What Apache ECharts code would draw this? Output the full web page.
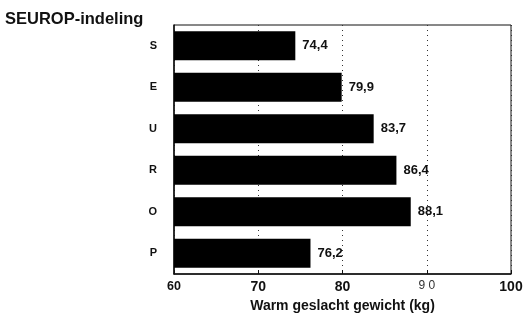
<!DOCTYPE html>
<html>
<head>
<meta charset="utf-8">
<script src="https://cdn.jsdelivr.net/npm/echarts@6/dist/echarts.min.js"></script>
<style>
  html, body { margin: 0; padding: 0; background: #fff; }
  #chart { width: 530px; height: 313px; }
</style>
</head>
<body>
<div id="chart"></div>
<script>
// SEUROP classes, top to bottom
const categories = ['S', 'E', 'U', 'R', 'O', 'P'];
// warm carcass weight (kg)
const weights = [74.4, 79.9, 83.7, 86.4, 88.1, 76.2];
const tickLabels = ['60', '70', '80', '9 0', '100'];

const chart = echarts.init(document.getElementById('chart'));

chart.setOption({
  animation: false,
  title: {
    text: 'SEUROP-indeling',
    left: 0,
    top: 6,
    textStyle: { fontFamily: 'Liberation Sans', fontSize: 16.5, fontWeight: 'bold', color: '#111' }
  },
  grid: {
    left: 174, right: 19, top: 25, bottom: 39,
    outerBoundsMode: 'none',
    show: true, borderColor: '#111', borderWidth: 1
  },
  xAxis: {
    type: 'value',
    min: 60,
    max: 100,
    interval: 10,
    name: 'Warm geslacht gewicht (kg)',
    nameLocation: 'middle',
    nameGap: 22,
    nameTextStyle: { fontFamily: 'Liberation Sans', fontSize: 14, fontWeight: 'bold', color: '#111' },
    axisLine: { show: true, lineStyle: { color: '#111', width: 1.5 } },
    axisTick: { show: true, inside: true, length: 4, lineStyle: { color: '#111' } },
    axisLabel: {
      color: '#111',
      margin: 6,
      formatter: (v, i) => {
        const t = tickLabels[i];
        if (i === 0) return '{s|' + t + '}';
        if (i === 3) return '{l|' + t + '}';
        return '{b|' + t + '}';
      },
      rich: {
        s: { fontFamily: 'Liberation Sans', fontSize: 12.5, fontWeight: 'bold', color: '#111' },
        b: { fontFamily: 'Liberation Sans', fontSize: 14, fontWeight: 'bold', color: '#111' },
        l: { fontFamily: 'Liberation Sans', fontSize: 12, fontWeight: 'normal', color: '#333' }
      }
    },
    splitLine: {
      show: true,
      lineStyle: { type: [1, 4], color: '#333', width: 1 }
    }
  },
  yAxis: {
    type: 'category',
    data: categories,
    inverse: true,
    axisLine: { show: true, lineStyle: { color: '#111', width: 1.5 } },
    axisTick: { show: false },
    axisLabel: {
      fontFamily: 'Liberation Sans',
      fontSize: 11,
      fontWeight: 'bold',
      color: '#111',
      margin: 17
    }
  },
  series: [{
    type: 'bar',
    data: weights,
    barCategoryGap: '30%',
    itemStyle: { color: '#000' },
    label: {
      show: true,
      position: 'right',
      distance: 7,
      fontFamily: 'Liberation Sans',
      fontSize: 13,
      fontWeight: 'bold',
      color: '#111',
      formatter: p => String(p.value).replace('.', ',')
    }
  }]
});
</script>
</body>
</html>
